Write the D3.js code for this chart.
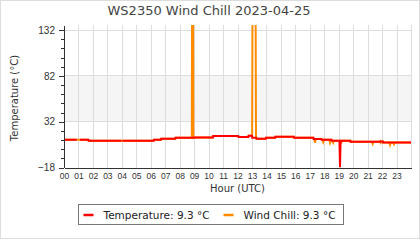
<!DOCTYPE html>
<html lang="en">
    <head>
        <meta charset="utf-8">
        <title>WS2350 Wind Chill</title>
        <script type="text/javascript" src="https://cdn.jsdelivr.net/npm/d3@7"></script>
        <style type="text/css">
            body { margin: 0; background: #fff; }
            svg { font-family: "DejaVu Sans", sans-serif; }
            .axis path, .axis line { stroke: #333; shape-rendering: crispEdges; }
            .axis text { fill: #333; }
            .grid line { stroke: #ddd; shape-rendering: crispEdges; }
        </style>
    </head>
    <body>
        <script type="text/javascript">
            // Hour labels on the x axis
            var hourLabels = ["00","01","02","03","04","05","06","07","08","09","10","11",
                              "12","13","14","15","16","17","18","19","20","21","22","23"];
            var yTicks = [-18, 32, 82, 132];

            // Temperature readings (hour of day, degC). null = no reading
            var tempHours = [0, 0.88, 0.9, 1.1, 1.68, 1.7, 3.98, 4.0, 4.05, 6.2, 6.22, 6.7, 6.72, 7.7, 7.72,
                             9.0, 9.02, 10.3, 10.32, 12.05, 12.07, 12.75, 12.77, 13.0, 13.02, 13.3, 13.32,
                             13.95, 13.97, 14.6, 14.62, 15.9, 15.92, 17.25, 17.27, 17.8, 17.82, 18.5, 18.52,
                             19.05, 19.09, 19.13, 19.8, 19.82, 21.85, 21.87, 22.05, 22.07, 24];
            var tempValues = [12.3, 12.3, null, 12.3, 12.3, 11.2, 11.2, null, 11.2, 11.2, 12.3, 12.3, 13.4, 13.4, 14.4,
                              14.4, 14.8, 14.8, 16.4, 16.4, 15.3, 15.3, 16.7, 16.7, 14.5, 14.5, 13.4,
                              13.4, 14.5, 14.5, 15.6, 15.6, 14.5, 14.5, 13.1, 13.1, 12.3, 12.3, 11.2,
                              11.2, -17.6, 11.2, 11.2, 10.0, 10.0, 10.5, 10.5, 9.3, 9.3];

            // Wind chill readings (hour of day, degC); two bad readings go off the top
            var chillHours = [0, 1.68, 1.7, 6.2, 6.22, 6.7, 6.72, 7.7, 7.72, 8.84, 8.86, 8.93, 8.95, 9.02,
                              10.3, 10.32, 12.05, 12.07, 12.75, 12.77, 13.01, 13.04, 13.25, 13.28, 13.32,
                              13.95, 13.97, 14.6, 14.62, 15.9, 15.92, 17.25, 17.27, 17.3, 17.36, 17.42,
                              17.8, 17.82, 17.87, 17.93, 17.99, 18.34, 18.4, 18.46, 18.5, 18.52, 18.56, 18.62, 18.68,
                              19.14, 19.2, 19.26, 19.8, 19.82, 21.29, 21.35, 21.41, 21.85, 21.87, 21.9, 21.95,
                              22.05, 22.07, 22.49, 22.55, 22.61, 22.76, 22.82, 22.88, 24];
            var chillValues = [12.3, 12.3, 11.2, 11.2, 12.3, 12.3, 13.4, 13.4, 14.4, 14.4, 170, 170, 14.4, 14.8,
                               14.8, 16.4, 16.4, 15.3, 15.3, 16.7, 16.7, 170, 170, 14.5, 13.4,
                               13.4, 14.5, 14.5, 15.6, 15.6, 14.5, 14.5, 13.1, 13.1, 9.0, 13.1,
                               13.1, 12.3, 12.3, 9.6, 12.3, 12.3, 9.0, 12.3, 12.3, 11.2, 11.2, 9.0, 11.2,
                               11.2, 9.5, 11.2, 11.2, 10.0, 10.0, 7.8, 10.0, 10.0, 10.5, 9.2, 10.5,
                               10.5, 9.3, 9.3, 6.6, 9.3, 9.3, 7.4, 9.3, 9.3];

            var legendNames = ["Temperature: 9.3 \u00b0C", "Wind Chill: 9.3 \u00b0C"];
            var seriesColors = ["#ff0000", "#ff8c00"];

            var width = 420, height = 240;
            var margin = {top: 25, right: 9, bottom: 72.5, left: 64};
            var plotW = width - margin.left - margin.right;
            var plotH = height - margin.top - margin.bottom;

            var svg = d3.select("body").append("svg")
                        .attr("width", width)
                        .attr("height", height);

            // outer frame
            svg.append("rect")
                .attr("x", 0.5).attr("y", 0.5)
                .attr("width", width - 1).attr("height", height - 2)
                .attr("fill", "none")
                .attr("stroke", "#ddd");

            svg.append("text")
                .attr("x", 209).attr("y", 15)
                .attr("text-anchor", "middle")
                .style("font-size", "13px")
                .style("fill", "#444")
                .text("WS2350 Wind Chill 2023-04-25");

            var x = d3.scaleLinear().domain([0, 24]).range([0, plotW]);
            var y = d3.scaleLinear().domain([-18, 137.5]).range([plotH, 0]);

            var g = svg.append("g")
                        .attr("transform", "translate(" + margin.left + "," + margin.top + ")");

            g.append("clipPath")
                .attr("id", "plotclip")
              .append("rect")
                .attr("x", 0).attr("y", 0)
                .attr("width", plotW).attr("height", plotH + 1);

            // shaded band between 32 and 82
            g.append("rect")
                .attr("x", 0).attr("width", plotW)
                .attr("y", y(82)).attr("height", y(32) - y(82))
                .attr("fill", "#f5f5f5");

            // grid
            var grid = g.append("g").attr("class", "grid");
            grid.selectAll(".vg")
                .data(d3.range(1, 25))
                .enter().append("line")
                    .attr("x1", function(d) { return Math.round(x(d)) + 0.5; })
                    .attr("x2", function(d) { return Math.round(x(d)) + 0.5; })
                    .attr("y1", 0).attr("y2", plotH);
            grid.selectAll(".hg")
                .data(yTicks.slice(1))
                .enter().append("line")
                    .attr("x1", 0).attr("x2", plotW)
                    .attr("y1", function(d) { return y(d); })
                    .attr("y2", function(d) { return y(d); });

            // lines
            var line = d3.line()
                .defined(function(d) { return d[1] !== null; })
                .x(function(d) { return x(d[0]); })
                .y(function(d) { return y(d[1]); });

            var chill = chillHours.map(function(h, i) { return [h, chillValues[i]]; });
            var temp = tempHours.map(function(h, i) { return [h, tempValues[i]]; });

            var lines = g.append("g").attr("clip-path", "url(#plotclip)");
            lines.append("path")
                .datum(chill)
                .attr("d", line)
                .attr("fill", "none")
                .attr("stroke", seriesColors[1])
                .attr("stroke-width", 2);
            lines.append("path")
                .datum(temp)
                .attr("d", line)
                .attr("fill", "none")
                .attr("stroke", seriesColors[0])
                .attr("stroke-width", 2);

            // y axis, major + minor ticks
            g.append("g")
                .attr("class", "axis")
                .call(d3.axisLeft(y).tickValues(d3.range(-18, 138, 10)).tickSize(3).tickFormat(""))
                .select(".domain").remove();
            g.append("g")
                .attr("class", "axis")
                .call(d3.axisLeft(y).tickValues(yTicks).tickSizeInner(5).tickSizeOuter(0).tickPadding(4))
                .selectAll("text").style("font-size", "10px");

            // x axis
            var xAxis = g.append("g")
                .attr("class", "axis")
                .attr("transform", "translate(0," + plotH + ")")
                .call(d3.axisBottom(x).tickValues(d3.range(0, 24))
                        .tickFormat(function(d) { return hourLabels[d]; })
                        .tickSize(0).tickPadding(5));
            xAxis.selectAll("text").style("font-size", "8.5px");

            g.append("text")
                .attr("x", plotW / 2).attr("y", plotH + 24)
                .attr("text-anchor", "middle")
                .style("font-size", "10px").style("fill", "#333")
                .text("Hour (UTC)");

            svg.append("text")
                .attr("transform", "translate(18,98) rotate(-90)")
                .attr("text-anchor", "middle")
                .style("font-size", "10px").style("fill", "#333")
                .text("Temperature (\u00b0C)");

            // legend
            var legend = svg.append("g").attr("transform", "translate(78.5,204.5)");
            legend.append("rect")
                .attr("width", 265).attr("height", 20)
                .attr("fill", "#fff")
                .attr("stroke", "#777");
            var item = legend.selectAll(".legend")
                .data(legendNames)
                .enter().append("g")
                    .attr("transform", function(d, i) { return "translate(" + (5 + i * 140) + ",0)"; });
            item.append("line")
                .attr("x1", 0).attr("x2", 10)
                .attr("y1", 10.5).attr("y2", 10.5)
                .attr("stroke-width", 2.5)
                .attr("stroke", function(d, i) { return seriesColors[i]; });
            item.append("text")
                .attr("x", 20).attr("y", 14)
                .style("font-size", "10.5px").style("fill", "#222")
                .text(function(d) { return d; });
        </script>
    </body>
</html>
